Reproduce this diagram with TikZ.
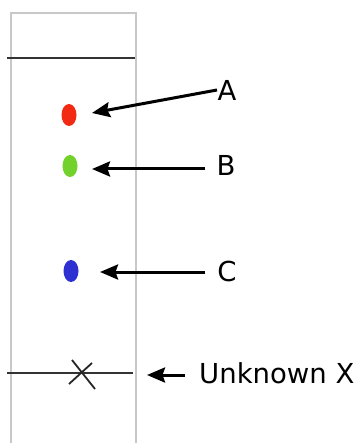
\documentclass[tikz,border=0pt]{standalone}
\usepackage{fontspec}
\setmainfont{DejaVu Sans}
\usetikzlibrary{arrows.meta,shapes.geometric}
\definecolor{plategray}{HTML}{C8C8C8}
\definecolor{spotred}{HTML}{F22A14}
\definecolor{spotgreen}{HTML}{72D12A}
\definecolor{spotblue}{HTML}{2E30D2}
\begin{document}
\begin{tikzpicture}[x=1pt,y=-1pt,
  plate/.style={draw=plategray,line width=2.2pt},
  mark line/.style={draw=black!80,line width=1.8pt},
  spot/.style={ellipse,minimum width=15pt,minimum height=22pt,inner sep=0pt,draw=none},
  lbl/.style={inner sep=0pt,font=\fontsize{27.5}{32}\selectfont},
  pointer/.style={draw=black,line width=3pt,-{Stealth[length=18pt,width=15pt,inset=2.5pt]}}]
\useasboundingbox (0,0) rectangle (358,443);
% plate
\draw[plate] (11,443) -- (11,13) -- (136,13) -- (136,443);
% solvent front and baseline
\draw[mark line] (7,58) -- (135,58);
\draw[mark line] (7,373) -- (133,373);
\draw[line width=1.8pt,black!85] (72,360) -- (95,389);
\draw[line width=1.8pt,black!85] (69,384) -- (92,363);
% spots
\node[spot,fill=spotred] (sa) at (69,115) {};
\node[spot,fill=spotgreen] (sb) at (70,166) {};
\node[spot,fill=spotblue] (sc) at (71,271) {};
% labels
\node[lbl,anchor=center] (la) at (227,90) {A};
\node[lbl,anchor=center] (lb) at (226,165) {B};
\node[lbl,anchor=center] (lc) at (227,271) {C};
\node[lbl,anchor=west] (lx) at (199,373) {Unknown X};
\coordinate (ta) at (92,113);
\coordinate (tb) at (92,169);
\coordinate (tc) at (100,272);
\coordinate (tx) at (147,375);
\coordinate (sa2) at (217,90);
\coordinate (sb2) at (205,169);
\coordinate (sc2) at (205,272);
\coordinate (sx) at (185,375);
\draw[pointer] (sa2) -- (ta);
\draw[pointer] (sb2) -- (tb);
\draw[pointer] (sc2) -- (tc);
\draw[pointer] (sx) -- (tx);
\end{tikzpicture}
\end{document}
